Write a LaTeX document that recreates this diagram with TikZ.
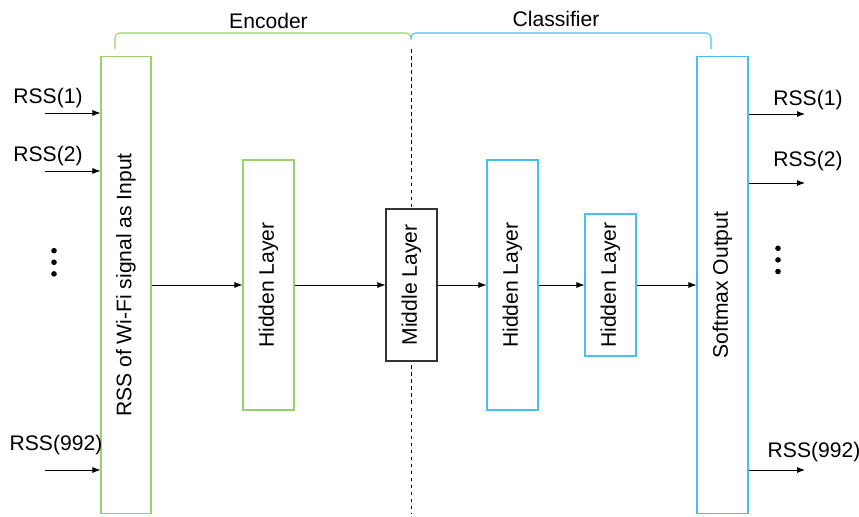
\documentclass[tikz,border=0pt]{standalone}
\usepackage{fontspec}
\setmainfont{Liberation Sans}
\usetikzlibrary{arrows.meta, positioning}
\definecolor{encgreen}{RGB}{150,210,105}
\definecolor{clsblue}{RGB}{70,192,240}

\begin{document}
\begin{tikzpicture}[x=0.03cm, y=-0.03cm, font=\fontsize{18}{20}\selectfont,
  layer/.style={draw, line width=0.9pt, fill=white, rotate=90, inner sep=0pt},
  arr/.style={-{Latex[length=2.4mm, width=1.8mm]}, line width=0.7pt}]
\def\px{0.03cm}
\useasboundingbox (0,0) rectangle (859,517);

% encoder / classifier brackets and the split between them
\draw[encgreen, line width=0.9pt, rounded corners=4pt] (115,49) -- (115,33) -- (411,33) -- (411,36);
\draw[clsblue, line width=0.9pt, rounded corners=4pt] (411,36) -- (411,33) -- (711,33) -- (711,49);
\node (enc) at (268.5,21) {Encoder};
\node (cls) at (556,19) {Classifier};
\draw[dashed, line width=0.6pt] (411,49) -- (411,513);

% layers
\node[layer, draw=encgreen, minimum width=457*\px, minimum height=50*\px] (input) at (126,285) {RSS of Wi-Fi signal as Input};
\node[layer, draw=encgreen, minimum width=250*\px, minimum height=51*\px] (hid1) at (268.5,285) {Hidden Layer};
\node[layer, draw=black!80, minimum width=152*\px, minimum height=51*\px] (mid) at (411.5,285) {Middle Layer};
\node[layer, draw=clsblue, minimum width=250*\px, minimum height=51*\px] (hid2) at (512.5,285) {Hidden Layer};
\node[layer, draw=clsblue, minimum width=142*\px, minimum height=51*\px] (hid3) at (610.5,285) {Hidden Layer};
\node[layer, draw=clsblue, minimum width=457*\px, minimum height=51*\px] (soft) at (722.5,285) {Softmax Output};

\draw[arr] (input) -- (hid1);
\draw[arr] (hid1) -- (mid);
\draw[arr] (mid) -- (hid2);
\draw[arr] (hid2) -- (hid3);
\draw[arr] (hid3) -- (soft);

% inputs
\coordinate (in1) at (45,113);
\coordinate (in2) at (45,171);
\coordinate (inN) at (45,470);
\node (lin1) at (48,98) {RSS(1)};
\node (lin2) at (48,156) {RSS(2)};
\node (linN) at (56,445) {RSS(992)};
\foreach \c in {in1, in2, inN}
  \draw[arr] (\c) -- (\c -| input.north);

% outputs
\coordinate (out1) at (805,114);
\coordinate (out2) at (805,183);
\coordinate (outN) at (805,470);
\node (lout1) at (808,100) {RSS(1)};
\node (lout2) at (808,161) {RSS(2)};
\node (loutN) at (814,452) {RSS(992)};
\foreach \c in {out1, out2, outN}
  \draw[arr] (\c -| soft.south) -- (\c);

% dots for the skipped signals
\foreach \y in {0,11.6,23.2} {
  \fill (54,{250.7+\y}) circle (2.8);
  \fill (778,{248.3+\y}) circle (2.8);
}
\end{tikzpicture}
\end{document}
